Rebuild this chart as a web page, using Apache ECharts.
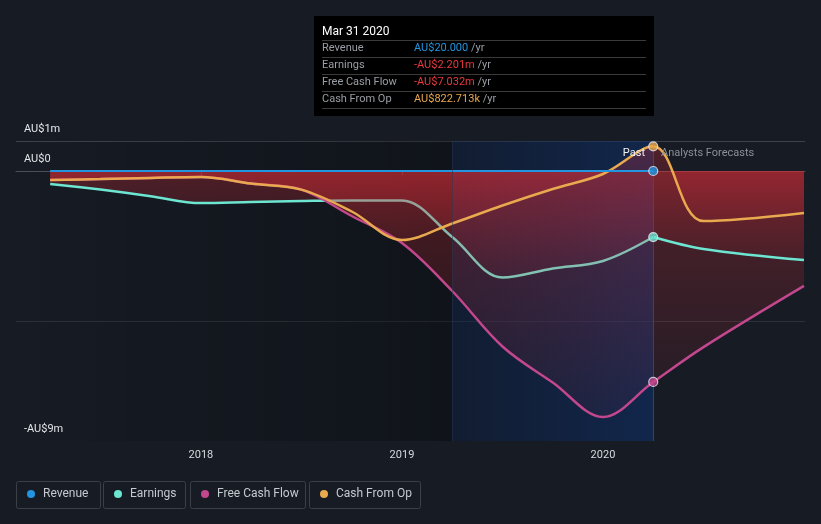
<!DOCTYPE html>
<html><head><meta charset="utf-8">
<script src="https://cdn.jsdelivr.net/npm/echarts@6/dist/echarts.min.js"></script>
<style>html,body{margin:0;padding:0;background:#161b24;}#c{width:821px;height:524px;}</style>
</head><body><div id="c"></div>
<script>
// decimal years (quarter ends); 2020.25 = Mar 31 2020, later points are analyst forecasts
const dates = [2017.25, 2017.5, 2017.75, 2018.0, 2018.25, 2018.5, 2018.75, 2019.0, 2019.25, 2019.5, 2019.75, 2020.0, 2020.25, 2020.5, 2021.0];
// values in AU$ millions
const revenue    = [0.00002, 0.00002, 0.00002, 0.00002, 0.00002, 0.00002, 0.00002, 0.00002, 0.00002, 0.00002, 0.00002, 0.00002, 0.00002, null, null];
const earnings   = [-0.43, -0.62, -0.84, -1.07, -1.03, -1.0, -0.98, -0.98, -2.2, -3.55, -3.25, -3.0, -2.201, -2.6, -2.97];
const freeCash   = [-0.3, -0.27, -0.23, -0.2, -0.42, -0.62, -1.5, -2.4, -4.0, -5.85, -7.05, -8.2, -7.032, -5.87, -3.83];
const cashFromOp = [-0.3, -0.27, -0.23, -0.2, -0.42, -0.62, -1.35, -2.3, -1.75, -1.15, -0.6, -0.1, 0.823, -1.67, -1.4];
const seriesNames = ['Revenue', 'Earnings', 'Free Cash Flow', 'Cash From Op'];
const colors = ['#2394df', '#6ce5d1', '#c2478d', '#e9a94f'];
const xTicks = [2018, 2019, 2020];
const yLabels = [1, 0, -9];
const xMin = 2017.08, xMax = 2021.005;
const pastStart = 2019.25, pastEnd = 2020.25;
const tipTitle = 'Mar 31 2020';
const tipValues = ['AU$20.000', '-AU$2.201m', '-AU$7.032m', 'AU$822.713k'];
const tipColors = ['#2394df', '#e8393f', '#e8393f', '#e9a94f'];

const FONT = 'Roboto, "Noto Sans", sans-serif';
const chart = echarts.init(document.getElementById('c'));
const dataSets = [revenue, earnings, freeCash, cashFromOp];
const endIdx = dates.indexOf(pastEnd);

// mode: 'all' | 'past' | 'future'
function part(arr, mode) {
  const out = [];
  dates.forEach((d, i) => {
    if (arr[i] === null) return;
    if (mode === 'all' || (mode === 'past' ? d <= pastEnd : d >= pastEnd)) out.push([d, arr[i]]);
  });
  return out;
}
function areaGrad() {
  return new echarts.graphic.LinearGradient(0, 0, 0, 1, [
    { offset: 0, color: 'rgba(225,45,55,0.42)' },
    { offset: 1, color: 'rgba(215,45,55,0.08)' }
  ]);
}
function lineSeries(k, mode, z) {
  return {
    name: seriesNames[k], type: 'line', data: part(dataSets[k], mode),
    smooth: 0.35, symbol: 'none', silent: true,
    lineStyle: { color: colors[k], width: k === 0 ? 2 : 2.5 },
    itemStyle: { color: colors[k] },
    areaStyle: k === 0 ? undefined : { color: areaGrad(), origin: 0 },
    z: z
  };
}
const series = [];
// base background regions
series.push({
  type: 'line', data: [], silent: true, z: 1,
  markArea: { silent: true, data: [
    [{ xAxis: xMin, itemStyle: { color: new echarts.graphic.LinearGradient(0, 0, 1, 0, [
        { offset: 0, color: 'rgba(0,0,0,0)' }, { offset: 1, color: 'rgba(0,0,0,0.28)' }]) } }, { xAxis: pastStart }],
    [{ xAxis: pastStart, itemStyle: { color: new echarts.graphic.LinearGradient(0, 0, 1, 0, [
        { offset: 0, color: 'rgba(8,25,55,0.35)' }, { offset: 1, color: 'rgba(10,40,90,0.5)' }]) } }, { xAxis: pastEnd }]
  ] }
});
// layering: later areas overlay earlier lines
series.push(lineSeries(1, 'past', 3.0));
series.push(lineSeries(2, 'all', 3.1));
series.push(lineSeries(1, 'future', 3.2));
series.push(lineSeries(3, 'all', 3.3));
series.push(lineSeries(0, 'all', 3.4));
// light overlay of the past-year band + divider lines
series.push({
  type: 'line', data: [], silent: true, z: 5,
  markArea: { silent: true, data: [
    [{ xAxis: pastStart, itemStyle: { color: new echarts.graphic.LinearGradient(0, 0, 1, 0, [
        { offset: 0, color: 'rgba(20,50,110,0.10)' }, { offset: 1, color: 'rgba(25,60,130,0.2)' }]) } }, { xAxis: pastEnd }]
  ] },
  markLine: { silent: true, symbol: 'none', label: { show: false },
    lineStyle: { color: 'rgba(55,85,135,0.7)', width: 1, type: 'solid' },
    data: [{ xAxis: pastEnd }, { xAxis: pastStart, lineStyle: { color: 'rgba(40,55,80,0.5)' } }] }
});
// end-of-past dots
series.push({
  type: 'scatter', silent: true, z: 6, symbolSize: 9,
  data: dataSets.map((arr, k) => ({ value: [dates[endIdx], arr[endIdx]],
    itemStyle: { color: colors[k], borderColor: '#e6e6ee', borderWidth: 1.2 } }))
});

// split line colours: ticks -9..1
const splitColors = [];
for (let v = -9; v <= 1; v++) {
  splitColors.push(v === 0 ? '#ffffff' : (v === 1 ? '#3d424b' : (v === -5 ? '#2c313a' : 'rgba(0,0,0,0)')));
}

// legends
const boxes = [[16, 84], [103, 82], [190, 115], [309, 111]];
const legends = seriesNames.map((n, i) => ({
  data: [{ name: n, icon: 'circle', itemStyle: { color: colors[i] } }],
  left: boxes[i][0] + 11, top: 488,
  itemWidth: 8, itemHeight: 8, padding: 0,
  selectedMode: false,
  textStyle: { color: '#c5c9d0', fontSize: 12, fontFamily: FONT, padding: [0, 0, 0, 3] }
}));

const graphic = [];
boxes.forEach(b => graphic.push({ type: 'rect', shape: { x: b[0] + 0.5, y: 481.5, width: b[1], height: 27, r: 2 },
  style: { fill: 'rgba(0,0,0,0)', stroke: '#3a3f48', lineWidth: 1 }, silent: true }));
graphic.push({ type: 'rect', shape: { x: 314, y: 16, width: 340, height: 100 }, style: { fill: '#000000' }, z: 100, silent: true });
graphic.push({ type: 'text', x: 322, y: 32, z: 101, silent: true,
  style: { text: tipTitle, fill: '#ffffff', fontSize: 12, fontFamily: FONT, verticalAlign: 'middle' } });
[40, 57, 74, 91, 108].forEach(y => graphic.push({ type: 'line', z: 101, silent: true,
  shape: { x1: 322, y1: y + 0.5, x2: 646, y2: y + 0.5 }, style: { stroke: '#3a3a3a', lineWidth: 1 } }));
seriesNames.forEach((n, i) => {
  const y = 48.5 + i * 17;
  graphic.push({ type: 'text', x: 322, y: y, z: 101, silent: true,
    style: { text: n, fill: '#9a9ea5', fontSize: 11, fontFamily: FONT, verticalAlign: 'middle' } });
  graphic.push({ type: 'text', x: 414, y: y, z: 101, silent: true,
    style: { text: '{v|' + tipValues[i] + '} {u|/yr}', fontSize: 11, fontFamily: FONT, verticalAlign: 'middle',
      rich: { v: { fill: tipColors[i], fontSize: 11, fontFamily: FONT }, u: { fill: '#9a9ea5', fontSize: 11, fontFamily: FONT } } } });
});
graphic.push({ type: 'text', x: 645, y: 153, z: 50, silent: true,
  style: { text: 'Past', fill: '#f0f0f0', fontSize: 11, fontFamily: FONT, align: 'right', verticalAlign: 'middle' } });
graphic.push({ type: 'text', x: 661, y: 153, z: 50, silent: true,
  style: { text: 'Analysts Forecasts', fill: '#8c9097', fontSize: 11, fontFamily: FONT, align: 'left', verticalAlign: 'middle' } });

chart.setOption({
  backgroundColor: '#161b24',
  animation: false,
  textStyle: { fontFamily: FONT },
  grid: { left: 16, right: 16, top: 141, bottom: 83 },
  legend: legends,
  graphic: graphic,
  xAxis: {
    type: 'value', min: xMin, max: xMax,
    axisLine: { show: true, lineStyle: { color: '#4a4f58', width: 1 } },
    axisTick: { show: true, customValues: xTicks, length: 4, lineStyle: { color: '#4a4f58' } },
    axisLabel: { customValues: xTicks, color: '#d6d9de', fontSize: 11, margin: 9, formatter: v => String(v) },
    splitLine: { show: false }
  },
  yAxis: {
    type: 'value', min: -9, max: 1, interval: 1,
    axisLine: { show: false }, axisTick: { show: false },
    axisLabel: { inside: true, customValues: yLabels, margin: 8, color: '#e6e8eb', fontSize: 11,
      verticalAlign: 'bottom', padding: [0, 0, 6, 0],
      formatter: v => v === 0 ? 'AU$0' : (v < 0 ? '-AU$' + Math.abs(v) + 'm' : 'AU$' + v + 'm') },
    splitLine: { show: true, lineStyle: { color: splitColors, width: 1 } }
  },
  series: series
});
</script></body></html>
